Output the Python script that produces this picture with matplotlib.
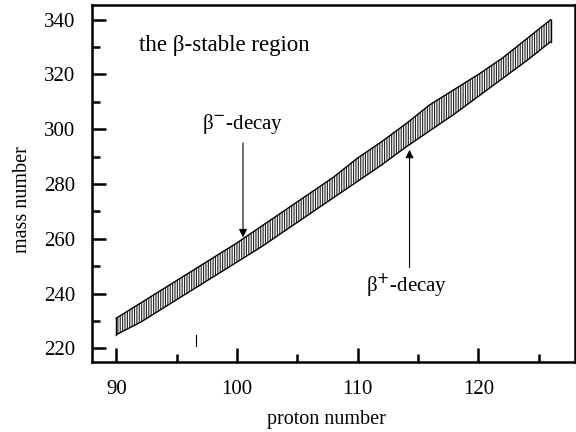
import matplotlib.pyplot as plt
import numpy as np

# proton number and the two edges of the beta-stable band
Z = [90, 92, 94, 96, 98, 100, 102, 104, 106, 108, 110, 112, 114, 116, 118, 120, 122, 124, 126]
A_upper = [231, 236.5, 242, 247.5, 253, 258.5, 264.5, 270.5, 276.5, 282.5, 289.5, 295.5, 302, 309, 314.5, 320, 326, 333, 340]
A_lower = [225, 229.5, 235, 240.5, 246, 251.5, 257, 263, 269, 275, 281, 287, 293.5, 299.5, 305.5, 312, 318.5, 325, 332]

# arrows: (Z, tail A, tip A)
beta_minus = (100.5, 296, 259.5)
beta_plus = (114.3, 248.5, 293.5)

# small stray mark near the bottom
mark_Z = 96.6
mark_A = [221, 225]

plt.rcParams['font.family'] = ['Liberation Serif', 'DejaVu Serif']
plt.rcParams['hatch.linewidth'] = 0.8

fig = plt.figure(figsize=(5.76, 4.32), dpi=100)
ax = fig.add_axes([0.16, 0.162, 0.838, 0.826])

# banda hachurada
ax.fill_between(Z, A_lower, A_upper, facecolor='white', edgecolor='#222222',
                hatch='|||||||', linewidth=0)
ax.plot(Z, A_upper, color='black', lw=1.0)
ax.plot(Z, A_lower, color='black', lw=1.0)
ax.plot([Z[0], Z[0]], [A_lower[0], A_upper[0]], color='black', lw=1.0)
ax.plot([Z[-1], Z[-1]], [A_lower[-1], A_upper[-1]], color='black', lw=1.0)

ax.plot([mark_Z, mark_Z], mark_A, color='black', lw=0.8)

# setas
ax.annotate('', xy=(beta_minus[0], beta_minus[2]), xytext=(beta_minus[0], beta_minus[1]),
            arrowprops=dict(arrowstyle='-|>', color='black', lw=0.8, mutation_scale=12))
ax.annotate('', xy=(beta_plus[0], beta_plus[2]), xytext=(beta_plus[0], beta_plus[1]),
            arrowprops=dict(arrowstyle='-|>', color='black', lw=0.8, mutation_scale=12))

ax.text(beta_minus[0], beta_minus[1] + 1.5, r'β$^{-}$-decay', ha='center', va='bottom', fontsize=15)
ax.text(beta_plus[0] - 0.2, beta_plus[1] - 0.5, r'β$^{+}$-decay', ha='center', va='top', fontsize=15)
ax.text(91.9, 330.5, 'the β-stable region', ha='left', va='center', fontsize=16.5)

ax.set_xlim(88, 128)
ax.set_ylim(215, 345.3)
ax.set_xticks([90, 100, 110, 120])
ax.set_xticks(np.arange(95, 128, 10), minor=True)
ax.set_yticks(np.arange(220, 341, 20))
ax.set_yticks(np.arange(230, 341, 20), minor=True)

ax.tick_params(which='both', direction='in', width=1.8, labelsize=15, top=False, right=False)
ax.tick_params(which='major', length=10)
ax.tick_params(axis='x', which='major', pad=13)
ax.tick_params(axis='y', which='major', pad=12)
ax.tick_params(which='minor', length=6)
for s in ax.spines.values():
    s.set_linewidth(1.8)

ax.set_xlabel('proton number', fontsize=14.5)
ax.set_ylabel('mass number', fontsize=14.5)
ax.xaxis.set_label_coords(0.485, -0.135)
ax.yaxis.set_label_coords(-0.125, 0.455)

plt.savefig('out.png', dpi=100)
